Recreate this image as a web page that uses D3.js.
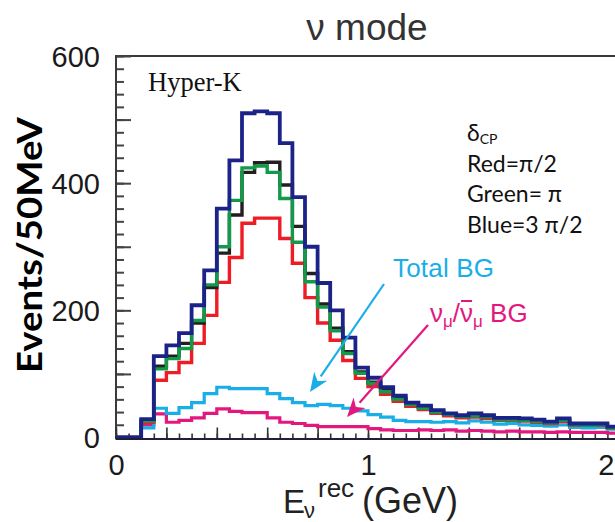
<!DOCTYPE html>
<html>
<head>
<meta charset="utf-8">
<script src="https://cdn.jsdelivr.net/npm/d3@7"></script>
<style>
  html, body { margin: 0; padding: 0; background: #ffffff; }
  svg { display: block; }
</style>
</head>
<body>
<svg id="chart" width="615" height="522"></svg>
<script>
// Lower edges of the 50 MeV reconstructed-energy bins (GeV)
const binLow = [0.00,0.05,0.10,0.15,0.20,0.25,0.30,0.35,0.40,0.45,
                0.50,0.55,0.60,0.65,0.70,0.75,0.80,0.85,0.90,0.95,
                1.00,1.05,1.10,1.15,1.20,1.25,1.30,1.35,1.40,1.45,
                1.50,1.55,1.60,1.65,1.70,1.75,1.80,1.85,1.90,1.95];
const binTop = 2.0;

// Expected events per bin
const blueDeltaCP3Pi2 = [0,0,29,128,145,164,208,263,360,436,510,513,510,463,378,300,243,200,157,110,
                          94,79,66,55,50,43,38,35,38,35,31,31,30,28,25,30,22,22,22,17];
const blackDeltaCP0   = [0,0,27,112,128,148,180,236,290,350,417,432,433,397,332,258,210,172,135,103,
                          87,74,62,53,47,41,37,34,35,33,29,29,28,26,24,28,21,21,21,16];
const greenDeltaCPPi  = [0,0,26,108,124,140,184,240,300,373,424,427,417,376,307,245,205,168,132,101,
                          85,72,60,52,46,40,36,33,34,32,28,28,27,25,23,27,20,19,20,15];
const redDeltaCPPi2   = [0,0,24,90,102,118,148,192,244,283,337,345,345,313,274,220,180,153,121,93,
                          80,68,57,49,44,38,34,31,32,30,27,27,26,24,22,25,19,19,19,15];
const totalBG         = [0,0,15,46,38,47,55,69,79,77,77,77,69,61,55,50,52,50,46,42,
                          36,32,27,25,25,24,25,23,26,24,21,22,20,19,18,20,16,15,16,13];
const numuBG          = [0,0,20,37,24,27,31,38,45,41,39,39,31,24,22,19,17,17,17,17,
                          14,12,11,11,12,11,12,10,11,10,9,10,9,9,8,9,8,8,8,7];

const yLabelTicks = [0, 200, 400, 600];
const xLabelTicks = [0, 1, 2];

const svg = d3.select("#chart");

const x = d3.scaleLinear().domain([0, 2]).range([116, 620]);
const y = d3.scaleLinear().domain([0, 600]).range([437.5, 56]);

const sans = "Liberation Sans, Arial, sans-serif";
const legFont = "Lato, Open Sans, sans-serif";

// Plot frame (top edge; the right edge falls outside the view)
svg.append("line")
  .attr("x1", x(0)).attr("x2", 615)
  .attr("y1", y(600)).attr("y2", y(600))
  .attr("stroke", "#3a3a3a").attr("stroke-width", 2);

// Left axis: inward ticks, minor every 20, major every 100
const yMinor = d3.axisRight(y).tickValues(d3.range(0, 601, 20)).tickSize(8).tickFormat("");
const yMajor = d3.axisRight(y).tickValues(d3.range(0, 601, 100)).tickSize(15).tickFormat("");
[yMinor, yMajor].forEach(ax => {
  const g = svg.append("g").attr("transform", `translate(${x(0)},0)`).call(ax);
  g.select(".domain").remove();
  g.selectAll(".tick line").attr("stroke", "#444").attr("stroke-width", 2);
});
svg.append("line")
  .attr("x1", x(0)).attr("x2", x(0))
  .attr("y1", y(600) - 1).attr("y2", y(0) + 2)
  .attr("stroke", "#3a3a3a").attr("stroke-width", 2);

const yLab = svg.append("g").attr("transform", `translate(${x(0)},0)`)
  .call(d3.axisLeft(y).tickValues(yLabelTicks).tickSize(0).tickPadding(16));
yLab.select(".domain").remove();
yLab.selectAll("text")
  .attr("font-family", sans)
  .attr("font-size", 29).attr("fill", "#1a1a1a").attr("dy", "0.36em");

// Bottom axis: inward ticks, minor every 0.05 GeV, major every 0.2 GeV
const xMinor = d3.axisTop(x).tickValues(d3.range(0, 41).map(i => i * 0.05)).tickSize(5).tickFormat("");
const xMajor = d3.axisTop(x).tickValues(d3.range(0, 11).map(i => i * 0.2)).tickSize(11).tickFormat("");
[xMinor, xMajor].forEach(ax => {
  const g = svg.append("g").attr("transform", `translate(0,${y(0) + 1})`).call(ax);
  g.select(".domain").remove();
  g.selectAll(".tick line").attr("stroke", "#333").attr("stroke-width", 1.6);
});

const xLab = svg.append("g").attr("transform", `translate(0,${y(0)})`)
  .call(d3.axisBottom(x).tickValues(xLabelTicks).tickSize(0).tickPadding(17).tickFormat(d3.format("d")));
xLab.select(".domain").remove();
xLab.selectAll("text")
  .attr("font-family", sans)
  .attr("font-size", 29).attr("fill", "#1a1a1a");
// the last label sits at the right edge of the view
xLab.selectAll(".tick").filter(d => d === 2).select("text")
  .attr("text-anchor", "end").attr("x", 614 - x(2));

// Step outlines of each histogram
const stepLine = d3.line()
  .x(d => x(d[0]))
  .y(d => y(d[1]))
  .curve(d3.curveStepAfter);

function steps(values) {
  const pts = binLow.map((e, i) => [e, values[i]]);
  pts.push([binTop, values[values.length - 1]]);
  return pts;
}

const series = [
  { values: numuBG,          color: "#e3187f", width: 3.2 },
  { values: totalBG,         color: "#1aaee8", width: 3.2 },
  { values: redDeltaCPPi2,   color: "#ee1c25", width: 3.4 },
  { values: blackDeltaCP0,   color: "#231f20", width: 3.4 },
  { values: greenDeltaCPPi,  color: "#13994a", width: 3.4 },
  { values: blueDeltaCP3Pi2, color: "#1c2388", width: 3.8 }
];

series.forEach(s => {
  svg.append("path")
    .datum(steps(s.values))
    .attr("d", stepLine)
    .attr("fill", "none")
    .attr("stroke", s.color)
    .attr("stroke-width", s.width)
    .attr("stroke-linejoin", "miter");
});

// Bottom axis line drawn over the zero-level outlines
svg.append("line")
  .attr("x1", x(0)).attr("x2", 615)
  .attr("y1", y(0) + 1.5).attr("y2", y(0) + 1.5)
  .attr("stroke", "#1f1f3a").attr("stroke-width", 2);

// Arrows with solid triangular heads
function arrow(x1, y1, x2, y2, color) {
  const ang = Math.atan2(y2 - y1, x2 - x1);
  const len = 19, half = 8;
  const bx = x2 - len * Math.cos(ang), by = y2 - len * Math.sin(ang);
  svg.append("line")
    .attr("x1", x1).attr("y1", y1).attr("x2", bx).attr("y2", by)
    .attr("stroke", color).attr("stroke-width", 2.2);
  const px = -Math.sin(ang) * half, py = Math.cos(ang) * half;
  svg.append("path")
    .attr("d", `M${x2},${y2} L${bx + px},${by + py} L${bx + 0.3 * (x2 - bx)},${by + 0.3 * (y2 - by)} L${bx - px},${by - py} Z`)
    .attr("fill", color);
}
arrow(384, 284, 310, 392, "#1aaee8");
arrow(428, 325, 347, 417, "#e3187f");

// Annotation labels
svg.append("text")
  .attr("x", 393).attr("y", 277)
  .attr("font-family", sans)
  .attr("font-size", 26).attr("fill", "#1aaee8")
  .attr("textLength", 101)
  .text("Total BG");

const bgLab = svg.append("text")
  .attr("x", 430).attr("y", 322)
  .attr("font-family", sans)
  .attr("font-size", 26).attr("fill", "#e3187f");
bgLab.append("tspan").text("ν");
bgLab.append("tspan").attr("font-size", 17).attr("dy", 5).text("μ");
bgLab.append("tspan").attr("dy", -5).text("/");
bgLab.append("tspan").text("ν");
bgLab.append("tspan").attr("font-size", 17).attr("dy", 5).text("μ");
bgLab.append("tspan").attr("dy", -5).text(" BG");
// bar over the antineutrino symbol
const nubar = bgLab.node().getExtentOfChar(3);
svg.append("line")
  .attr("x1", nubar.x + 1).attr("x2", nubar.x + nubar.width - 1)
  .attr("y1", 301).attr("y2", 301)
  .attr("stroke", "#e3187f").attr("stroke-width", 2);

svg.append("text")
  .attr("x", 148).attr("y", 91)
  .attr("font-family", "Liberation Serif, Times New Roman, serif")
  .attr("font-size", 26.5).attr("fill", "#111")
  .text("Hyper-K");

// δCP legend
const d = svg.append("text")
  .attr("x", 467).attr("y", 141)
  .attr("font-family", legFont).attr("font-size", 23).attr("fill", "#111");
d.append("tspan").text("δ");
d.append("tspan").attr("font-size", 14).attr("dy", 3).text("CP");

[["Red=π/2", 172], ["Green= π", 202], ["Blue=3 π/2", 233]].forEach(([t, yy]) => {
  svg.append("text")
    .attr("x", 467).attr("y", yy)
    .attr("font-family", legFont).attr("font-size", 23).attr("fill", "#111")
    .text(t);
});

// Title
svg.append("text")
  .attr("x", 367).attr("y", 40)
  .attr("text-anchor", "middle")
  .attr("font-family", sans)
  .attr("font-size", 37).attr("fill", "#333")
  .text("ν mode");

// Axis titles
svg.append("text")
  .attr("transform", "translate(42,245) rotate(-90)")
  .attr("text-anchor", "middle")
  .attr("font-family", legFont).attr("font-weight", 700)
  .attr("font-size", 34).attr("fill", "#000")
  .attr("textLength", 256).attr("lengthAdjust", "spacingAndGlyphs")
  .text("Events/50MeV");

const axisTitle = svg.append("g").attr("fill", "#222").attr("font-family", sans);
axisTitle.append("text").attr("x", 283).attr("y", 513).attr("font-size", 33).text("E");
axisTitle.append("text").attr("x", 304).attr("y", 518).attr("font-size", 22).text("ν");
axisTitle.append("text").attr("x", 318).attr("y", 497).attr("font-size", 26).text("rec");
axisTitle.append("text").attr("x", 362).attr("y", 513).attr("font-size", 36).text("(GeV)");
</script>
</body>
</html>
